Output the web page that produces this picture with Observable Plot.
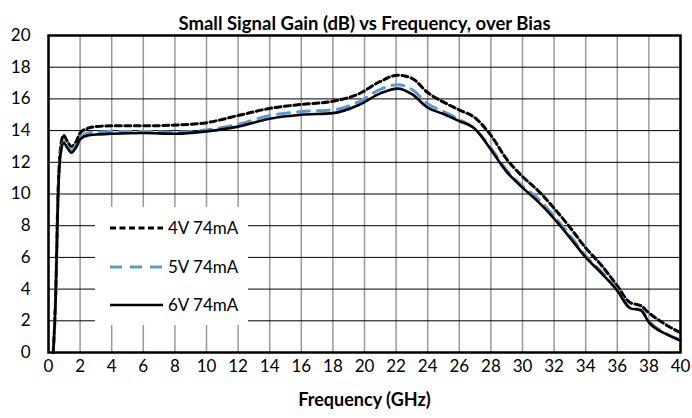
<!DOCTYPE html>
<html>
<head>
<meta charset="utf-8">
<script src="https://cdn.jsdelivr.net/npm/d3@7"></script>
<script src="https://cdn.jsdelivr.net/npm/@observablehq/plot@0.6"></script>
<style>
  html, body { margin: 0; padding: 0; background: #fff; }
  #wrap { position: relative; width: 692px; height: 418px; font-family: Lato, "Open Sans", sans-serif; }
  #legend { position: absolute; left: 95px; top: 207px; width: 153px; height: 118px; background: #fff; }
</style>
</head>
<body>
<div id="wrap"><div id="legend"></div></div>
<script>
const title = "Small Signal Gain (dB) vs Frequency, over Bias";
const xLabel = "Frequency (GHz)";
const seriesNames = ["4V 74mA", "5V 74mA", "6V 74mA"];
const xTicks = d3.range(0, 41, 2);
const yTicks = d3.range(0, 21, 2);

const freq = [0.3,0.45,0.6,0.75,0.95,1.2,1.45,1.75,2,2.5,3,4,6,8,10,12,14,16,18,19.6,21,22.1,23,24,25,26,27,28,29,30,31,32,33,34,35,36,36.8,37.5,38,39,40];
const gain4V = [0,3.5,10,12.8,13.7,13.3,13.0,13.3,13.85,14.15,14.25,14.3,14.3,14.35,14.5,14.95,15.4,15.65,15.85,16.3,17.1,17.5,17.3,16.4,15.8,15.3,14.8,13.7,12.2,11.1,10.2,9.1,7.9,6.6,5.5,4.2,3.15,2.95,2.5,1.8,1.25];
const gain5V = [0,3.3,9.8,12.5,13.3,13.0,12.75,13.1,13.55,13.85,13.9,13.95,13.95,13.9,14.05,14.4,14.95,15.2,15.3,15.8,16.6,16.9,16.6,15.7,15.2,14.7,14.1,12.9,11.5,10.5,9.7,8.6,7.4,6.1,5.1,3.95,2.85,2.7,2.0,1.25,0.8];
const gain6V = [0,3.3,9.6,12.4,13.25,12.9,12.6,12.95,13.45,13.7,13.75,13.8,13.85,13.8,13.95,14.25,14.75,15.0,15.1,15.6,16.35,16.65,16.3,15.45,15.05,14.6,14.1,12.8,11.4,10.4,9.5,8.45,7.25,6.0,5.0,3.9,2.8,2.65,1.9,1.2,0.75];

const styles = [
  {stroke: "#000000", strokeWidth: 3, dash: "6,3.5"},
  {stroke: "#5B9BD5", strokeWidth: 3, dash: "12,8"},
  {stroke: "#000000", strokeWidth: 2.6, dash: null}
];
const gains = [gain4V, gain5V, gain6V];
const rows = [];
seriesNames.forEach((s, i) => freq.forEach((f, j) => rows.push({series: s, f, g: gains[i][j]})));

const lineMarks = seriesNames.map((s, i) => Plot.line(rows.filter(d => d.series === s), {
  x: "f", y: "g", stroke: styles[i].stroke, strokeWidth: styles[i].strokeWidth,
  strokeDasharray: styles[i].dash, curve: "monotone-x", strokeLinejoin: "round"
}));

const chart = Plot.plot({
  width: 692, height: 418,
  marginLeft: 48, marginRight: 12, marginTop: 35, marginBottom: 66,
  style: {fontFamily: "Lato, 'Open Sans', sans-serif", fontSize: "17px", color: "#000", background: "#fff"},
  x: {domain: [0, 40], ticks: xTicks},
  y: {domain: [0, 20], ticks: yTicks},
  marks: [
    Plot.gridX(xTicks, {stroke: "#999", strokeOpacity: 1, strokeWidth: 1.5}),
    Plot.gridY(yTicks, {stroke: "#000", strokeOpacity: 1, strokeWidth: 1}),
    Plot.axisX(xTicks, {tickSize: 0, tickPadding: 7, label: null, fontSize: 17}),
    Plot.axisY(yTicks, {tickSize: 0, tickPadding: 18, label: null, fontSize: 17}),
    ...lineMarks,
    Plot.frame({stroke: "#000", strokeWidth: 2.5}),
    Plot.text([title], {frameAnchor: "top", dy: -19, fontWeight: "bold", fontSize: 18.5, text: d => d}),
    Plot.text([xLabel], {frameAnchor: "bottom", dy: 53, fontWeight: "bold", fontSize: 18, text: d => d})
  ]
});
const wrap = document.getElementById("wrap");
wrap.insertBefore(chart, wrap.firstChild);

// legend
const lg = d3.select("#legend").append("svg").attr("width", 153).attr("height", 118)
  .style("font-family", "Lato, 'Open Sans', sans-serif");
const rowY = [21, 60, 98];
seriesNames.forEach((s, i) => {
  lg.append("line").attr("x1", 15).attr("x2", 68).attr("y1", rowY[i]).attr("y2", rowY[i])
    .attr("stroke", styles[i].stroke).attr("stroke-width", styles[i].strokeWidth)
    .attr("stroke-dasharray", styles[i].dash);
  lg.append("text").attr("x", 73).attr("y", rowY[i]).attr("dy", "0.35em")
    .attr("font-size", 17).text(s);
});
</script>
</body>
</html>
